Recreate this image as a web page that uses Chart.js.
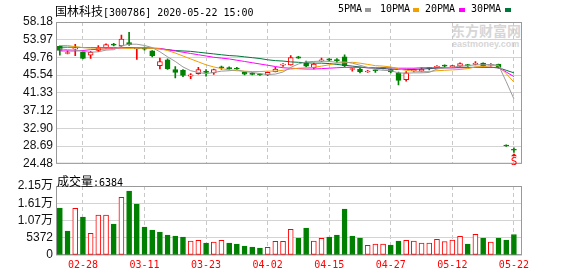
<!DOCTYPE html>
<html lang="zh-CN">
<head>
<meta charset="UTF-8">
<title>国林科技 日K</title>
<script src="https://cdn.jsdelivr.net/npm/chart.js@4"></script>
<style>
    body { margin: 0; background: #fff; width: 578px; height: 276px; position: relative; overflow: hidden;
           font-family: "Liberation Sans", "Noto Sans CJK SC", sans-serif; }
    canvas { position: absolute; left: 0; z-index: 1; }
    #kline { top: 0; }
    #volume { top: 174px; }
    .txt { position: absolute; white-space: nowrap; line-height: 1; color: #000; z-index: 2; }
    .cjk { font-family: "Noto Sans CJK SC", sans-serif; font-size: 12px; }
    .mono { font-family: "DejaVu Sans Mono", monospace; font-size: 10px; }
    .key { position: absolute; width: 6px; height: 4px; top: 8px; z-index: 2; }
    .wm { position: absolute; white-space: nowrap; line-height: 1; color: #d6d6d6; font-weight: bold; z-index: 0; }
</style>
</head>
<body>
    <div class="txt" style="left:55px;top:3px;"><span class="cjk">国林科技</span><span class="mono">[300786] 2020-05-22 15:00</span></div>

    <div class="txt mono" style="left:338px;top:4px;">5PMA</div>
    <div class="key" style="left:365px;background:#9a9a9a;"></div>
    <div class="txt mono" style="left:380px;top:4px;">10PMA</div>
    <div class="key" style="left:413px;background:#f0a000;"></div>
    <div class="txt mono" style="left:425px;top:4px;">20PMA</div>
    <div class="key" style="left:459px;background:#ff00ff;"></div>
    <div class="txt mono" style="left:471px;top:4px;">30PMA</div>
    <div class="key" style="left:505px;background:#00763a;"></div>

    <div class="wm" style="left:451px;top:23px;font-size:14px;font-family:'Noto Sans CJK SC';">东方财富网</div>
    <div class="wm" style="left:452px;top:40px;font-size:9px;">eastmoney.com</div>

    <div class="txt" style="left:57px;top:173px;"><span class="cjk">成交量</span><span class="mono">:6384</span></div>

    <canvas id="kline" width="578" height="174"></canvas>
    <canvas id="volume" width="578" height="102"></canvas>

    <script>
        // 交易日 (02-25 ~ 05-22)
        const dates = ['02-25','02-26','02-27','02-28','03-02','03-03','03-04','03-05','03-06','03-09',
                       '03-10','03-11','03-12','03-13','03-16','03-17','03-18','03-19','03-20','03-23',
                       '03-24','03-25','03-26','03-27','03-30','03-31','04-01','04-02','04-03','04-07',
                       '04-08','04-09','04-10','04-13','04-14','04-15','04-16','04-17','04-20','04-21',
                       '04-22','04-23','04-24','04-27','04-28','04-29','04-30','05-06','05-07','05-08',
                       '05-11','05-12','05-13','05-14','05-15','05-18','05-19','05-20','05-21','05-22'];
        const tickIdx = [3, 11, 19, 27, 35, 43, 51, 59];

        const openP  = [52.4,50.7,51.7,51.0,50.3,51.4,52.0,52.8,52.5,53.3, 51.8,52.0,51.3,47.8,49.2,46.9,46.7,45.3,45.9,46.4,
                        46.1,47.4,47.2,47.2,46.2,46.0,45.7,45.6,46.4,47.9, 48.0,49.9,48.4,47.3,48.9,49.4,49.1,49.9,46.9,47.0,
                        46.3,46.7,47.2,46.9,46.1,44.5,46.6,46.5,47.2,47.4, 47.8,47.4,47.7,48.0,48.1,48.4,47.9,48.1,28.95,27.8];
        const highP  = [52.5,51.3,52.9,51.1,51.2,52.6,53.0,53.1,55.1,55.7, 52.0,52.2,51.4,49.6,49.4,47.6,46.9,45.9,47.4,46.9,
                        47.0,47.7,47.5,47.4,46.3,46.2,45.9,46.3,47.4,48.3, 50.2,50.0,48.9,48.4,49.6,49.5,49.5,50.4,47.2,47.2,
                        46.7,46.9,47.3,47.0,46.3,46.4,47.0,47.3,47.3,47.8, 48.0,47.9,48.5,48.1,48.8,48.5,48.3,48.2,29.0,28.3];
        const lowP   = [50.3,50.6,50.2,49.4,49.5,51.1,51.9,52.5,52.4,52.6, 49.3,51.5,49.9,47.0,46.9,44.9,45.2,44.7,45.8,45.3,
                        45.7,46.9,46.9,46.9,45.6,45.6,45.5,45.4,46.3,47.6, 47.9,49.5,47.5,47.0,48.8,48.9,48.6,47.5,46.5,46.1,
                        46.2,46.2,47.0,46.1,43.2,44.1,46.3,46.3,46.8,47.3, 47.3,47.3,47.5,47.6,48.0,47.6,47.7,47.2,28.6,27.2];
        const closeP = [51.4,50.9,52.0,49.5,51.0,52.0,52.8,52.7,54.1,52.8, 51.9,51.7,50.2,48.8,47.0,46.2,45.5,45.6,46.9,46.2,
                        46.9,47.3,47.1,47.0,45.8,45.7,45.6,46.2,47.0,48.2, 49.7,49.6,47.7,48.2,49.2,49.1,49.0,47.8,47.1,46.4,
                        46.5,46.6,47.1,46.3,44.3,46.1,46.9,47.0,47.1,47.6, 47.7,47.8,48.3,47.8,48.4,47.8,48.0,47.3,28.7,27.7];

        const ma5  = [51.8,51.6,51.5,51.2,51.0,51.1,51.5,51.6,52.5,52.9, 52.9,52.6,52.1,51.1,49.9,48.8,47.5,46.6,46.2,45.9,
                      46.2,46.5,46.6,46.8,46.4,46.2,45.9,45.7,45.8,46.3, 47.4,48.2,48.7,48.8,48.9,48.8,48.6,48.7,48.4,47.9,
                      47.4,46.9,46.7,46.6,46.1,46.0,46.1,46.1,46.2,47.0, 47.3,47.4,47.7,47.8,48.0,48.0,48.1,47.9,44.0,39.9];
        const ma10 = [52.6,52.6,52.3,52.1,52.0,52.0,52.0,52.0,52.0,51.9, 52.0,52.0,51.9,51.8,51.4,50.8,50.1,49.4,48.7,48.0,
                      47.5,47.1,46.8,46.6,46.5,46.4,46.4,46.5,46.5,46.7, 47.0,47.2,47.3,47.4,47.7,48.0,48.4,48.5,48.6,48.4,
                      48.1,47.8,47.7,47.5,47.0,46.7,46.5,46.4,46.4,46.6, 46.7,46.8,46.9,47.1,47.5,47.6,47.8,47.8,45.9,43.9];
        const ma20 = [51.3,51.3,51.3,51.4,51.6,51.7,51.8,51.9,52.0,52.1, 52.1,52.1,52.0,51.9,51.6,51.3,51.0,50.7,50.4,50.1,
                      49.8,49.6,49.4,49.1,48.8,48.5,48.2,47.9,47.6,47.3, 47.2,47.1,47.0,47.0,47.1,47.2,47.3,47.4,47.4,47.4,
                      47.3,47.3,47.3,47.3,47.2,47.2,47.2,47.3,47.3,47.3, 47.3,47.3,47.3,47.3,47.4,47.4,47.4,47.3,46.3,45.2];
        const ma30 = [52.2,52.2,52.2,52.1,52.1,52.1,52.1,52.1,52.1,52.1, 52.0,52.0,51.9,51.8,51.6,51.4,51.3,51.2,51.0,50.8,
                      50.6,50.4,50.2,50.1,49.9,49.7,49.5,49.2,49.0,48.9, 48.7,48.6,48.5,48.4,48.4,48.3,48.1,47.9,47.7,47.5,
                      47.3,47.2,47.1,47.0,46.9,46.9,46.9,47.0,47.1,47.2, 47.3,47.3,47.4,47.4,47.4,47.4,47.4,47.3,46.7,46.1];

        const volume = [14640,7470,14530,11830,6750,12460,12460,9650,17960,19930, 15880,8720,7790,7160,6230,5920,5600,4360,4570,3740,
                        4050,4570,3740,3430,2800,2490,2180,2390,4260,4260, 7990,5290,8410,4360,5190,5610,6230,14320,5920,5290,
                        3010,3430,3430,3110,4360,4570,4360,3740,3740,4880, 4150,4670,5810,3430,6440,5290,4050,5290,4670,6384];

        const priceTicks = [24.48, 28.69, 32.90, 37.12, 41.33, 45.54, 49.76, 53.97, 58.18];
        const volTicks = [0, 5372, 10745, 16117, 21490];
        const volTickLabels = ['0', '5372', '1.07万', '1.61万', '2.15万'];
        const markIdx = 59; // 送转标记

        const RED = '#ff0000';
        const GREEN = '#008000';
        const idx = dates.map((d, i) => i);

        // K线颜色按开收盘, 成交量颜色按前收盘
        const candleUp = idx.map(i => closeP[i] >= openP[i]);
        const volUp = idx.map(i => i > 0 && closeP[i] > closeP[i - 1]);

        const frame = {
            id: 'frame',
            beforeDatasetsDraw(chart) {
                const { ctx, chartArea: a } = chart;
                ctx.save();
                ctx.strokeStyle = '#999';
                ctx.lineWidth = 1;
                ctx.strokeRect(a.left + 0.5, a.top + 0.5, a.right - a.left - 1, a.bottom - a.top - 1);
                ctx.restore();
            }
        };

        const marker = {
            id: 'marker',
            afterDatasetsDraw(chart) {
                const { ctx } = chart;
                const x = Math.round(chart.scales.x.getPixelForValue(markIdx));
                const y = chart.scales.y.getPixelForValue(lowP[markIdx]);
                ctx.save();
                ctx.fillStyle = RED;
                ctx.beginPath();
                ctx.moveTo(x, y + 1);
                ctx.lineTo(x - 3, y + 4);
                ctx.lineTo(x + 3, y + 4);
                ctx.closePath();
                ctx.fill();
                ctx.font = '11px "DejaVu Sans Mono"';
                ctx.textAlign = 'center';
                ctx.textBaseline = 'top';
                ctx.fillText('S', x, y + 4);
                ctx.restore();
            }
        };

        function xAxis(showLabels) {
            return {
                type: 'linear',
                min: -0.5,
                max: 60.05,
                offset: false,
                afterBuildTicks: s => { s.ticks = tickIdx.map(v => ({ value: v })); },
                ticks: {
                    display: showLabels,
                    color: RED,
                    autoSkip: false,
                    maxRotation: 0,
                    padding: 4,
                    font: { family: 'DejaVu Sans Mono', size: 10 },
                    callback: v => dates[v]
                },
                grid: { color: '#c8c8c8', drawTicks: false, offset: false },
                border: { display: false, dash: [4, 3] },
                afterFit: s => { s.height = showLabels ? 21 : 0; }
            };
        }

        function maLine(values, color) {
            return {
                type: 'line',
                data: values.map((v, i) => ({ x: i, y: v })),
                borderColor: color,
                borderWidth: 1,
                pointRadius: 0,
                tension: 0,
                order: 0
            };
        }

        new Chart(document.getElementById('kline'), {
            type: 'bar',
            data: {
                datasets: [
                    maLine(ma5, '#9a9a9a'),
                    maLine(ma10, '#f0a000'),
                    maLine(ma20, '#ff00ff'),
                    maLine(ma30, '#00763a'),
                    {
                        data: idx.map(i => ({ x: i, y: [openP[i], closeP[i]] })),
                        backgroundColor: candleUp.map(u => u ? '#ffffff' : GREEN),
                        borderColor: candleUp.map(u => u ? RED : GREEN),
                        borderWidth: 1,
                        borderSkipped: false,
                        barThickness: 5,
                        minBarLength: 1,
                        grouped: false,
                        order: 1
                    },
                    {
                        data: idx.map(i => ({ x: i, y: [lowP[i], highP[i]] })),
                        backgroundColor: candleUp.map(u => u ? RED : GREEN),
                        barThickness: 1,
                        grouped: false,
                        order: 2
                    }
                ]
            },
            options: {
                responsive: false,
                animation: false,
                layout: { padding: { top: 22, right: 56, bottom: 9, left: 0 } },
                plugins: { legend: { display: false }, tooltip: { enabled: false } },
                scales: {
                    x: xAxis(false),
                    y: {
                        min: 24.48,
                        max: 58.18,
                        afterBuildTicks: s => { s.ticks = priceTicks.map(v => ({ value: v })); },
                        ticks: {
                            color: '#111',
                            padding: 3,
                            autoSkip: false,
                            font: { family: 'Liberation Sans', size: 12 },
                            callback: v => v.toFixed(2)
                        },
                        grid: { color: '#d3d3d3', drawTicks: false },
                        border: { display: false },
                        afterFit: s => { s.width = 56; }
                    }
                }
            },
            plugins: [frame, marker]
        });

        new Chart(document.getElementById('volume'), {
            type: 'bar',
            data: {
                datasets: [{
                    data: idx.map(i => ({ x: i, y: volume[i] })),
                    backgroundColor: volUp.map(u => u ? '#ffffff' : GREEN),
                    borderColor: volUp.map(u => u ? RED : GREEN),
                    borderWidth: 1,
                    borderSkipped: false,
                    barThickness: 5,
                    grouped: false
                }]
            },
            options: {
                responsive: false,
                animation: false,
                layout: { padding: { top: 12, right: 56, bottom: 0, left: 0 } },
                plugins: { legend: { display: false }, tooltip: { enabled: false } },
                scales: {
                    x: xAxis(true),
                    y: {
                        min: 0,
                        max: 21490,
                        afterBuildTicks: s => { s.ticks = volTicks.map(v => ({ value: v })); },
                        ticks: {
                            color: '#111',
                            padding: 3,
                            autoSkip: false,
                            font: { family: "'Liberation Sans', 'Noto Sans CJK SC'", size: 12 },
                            callback: (v, i) => volTickLabels[i]
                        },
                        grid: { color: '#d3d3d3', drawTicks: false },
                        border: { display: false },
                        afterFit: s => { s.width = 56; }
                    }
                }
            },
            plugins: [frame]
        });
    </script>
</body>
</html>
